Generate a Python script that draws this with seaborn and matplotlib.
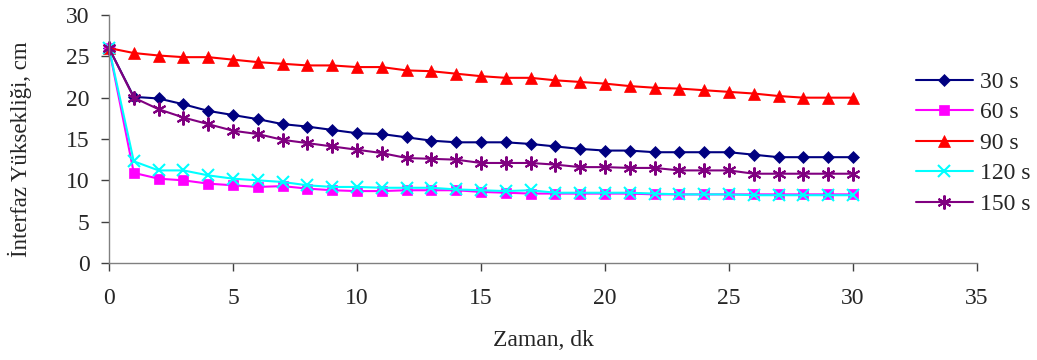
import numpy as np
import pandas as pd
import matplotlib
matplotlib.use("Agg")
import matplotlib.pyplot as plt
import seaborn as sns

zaman = list(range(0, 31))
s30 = [26.0, 20.1, 19.9, 19.2, 18.4, 17.9, 17.4, 16.8, 16.5, 16.1, 15.7, 15.6, 15.2, 14.8, 14.6, 14.6,
       14.6, 14.4, 14.1, 13.8, 13.6, 13.6, 13.4, 13.4, 13.4, 13.4, 13.1, 12.8, 12.8, 12.8, 12.8]
s60 = [26.0, 10.9, 10.2, 10.0, 9.6, 9.4, 9.2, 9.3, 9.0, 8.8, 8.7, 8.7, 8.8, 8.8, 8.8, 8.6,
       8.5, 8.4, 8.4, 8.4, 8.4, 8.4, 8.3, 8.3, 8.3, 8.3, 8.3, 8.3, 8.3, 8.3, 8.3]
s90 = [26.0, 25.4, 25.1, 24.9, 24.9, 24.6, 24.3, 24.1, 23.9, 23.9, 23.7, 23.7, 23.3, 23.2, 22.9, 22.6,
       22.4, 22.4, 22.1, 21.9, 21.7, 21.4, 21.2, 21.1, 20.9, 20.7, 20.5, 20.2, 20.0, 20.0, 20.0]
s120 = [26.0, 12.3, 11.2, 11.2, 10.6, 10.2, 10.0, 9.8, 9.4, 9.2, 9.2, 9.1, 9.1, 9.1, 8.9, 8.8,
        8.7, 8.8, 8.5, 8.5, 8.5, 8.5, 8.4, 8.3, 8.3, 8.3, 8.2, 8.2, 8.2, 8.2, 8.2]
s150 = [26.0, 20.0, 18.6, 17.6, 16.8, 16.0, 15.6, 14.9, 14.5, 14.1, 13.7, 13.3, 12.7, 12.6, 12.5, 12.1,
        12.1, 12.1, 11.9, 11.6, 11.6, 11.5, 11.5, 11.2, 11.2, 11.2, 10.8, 10.8, 10.8, 10.8, 10.8]

labels = ["30 s", "60 s", "90 s", "120 s", "150 s"]
series = [s30, s60, s90, s120, s150]
colors = ["#000080", "#FF00FF", "#FF0000", "#00FFFF", "#800080"]
markers = ["D", "s", "^", "x", (6, 2, 0)]
msizes = [6.5, 7, 9, 8, 10]

sns.set_style("white")
plt.rcParams['font.family'] = ['Liberation Serif', 'DejaVu Serif']

fig = plt.figure(figsize=(10.37, 3.6), dpi=100)
ax = fig.add_axes([109 / 1037, 1 - 263 / 360, (977 - 109) / 1037, (263 - 15) / 360])

for lab, vals, c, m, ms in zip(labels, series, colors, markers, msizes):
    df = pd.DataFrame({"Zaman": zaman, "H": vals})
    sns.lineplot(data=df, x="Zaman", y="H", ax=ax, color=c, marker=m, markersize=ms,
                 markeredgecolor=c, markerfacecolor=c,
                 markeredgewidth=1.5 if m in ("x", (6, 2, 0)) else 0.5,
                 linewidth=1.5, label=lab, legend=False)

ax.set_xlim(0, 35)
ax.set_ylim(0, 30)
ax.set_xticks(range(0, 36, 5))
ax.set_yticks(range(0, 31, 5))
for s in ["top", "right"]:
    ax.spines[s].set_visible(False)
for s in ["left", "bottom"]:
    ax.spines[s].set_color("#808080")
    ax.spines[s].set_linewidth(1.0)
ax.tick_params(axis="both", which="major", direction="out", length=6, width=1, color="#404040",
               labelsize=17, left=True, bottom=True)
ax.tick_params(axis="x", pad=12)
ax.tick_params(axis="y", pad=8)
ax.set_xlabel("Zaman, dk", fontsize=17, labelpad=15)
ax.set_ylabel("İnterfaz Yüksekliği, cm", fontsize=16.5, labelpad=18)
ax.yaxis.set_label_coords(-0.089, 0.46)
for ln in ax.lines:
    ln.set_clip_on(False)

handles, labs = ax.get_legend_handles_labels()
fig.legend(handles, labs, loc="center left", bbox_to_anchor=(916 / 1037, 1 - 143 / 360),
           frameon=False, fontsize=17, handlelength=2.4, handletextpad=0.3,
           labelspacing=0.38, borderpad=0, borderaxespad=0)

fig.savefig("out.png", dpi=100)
